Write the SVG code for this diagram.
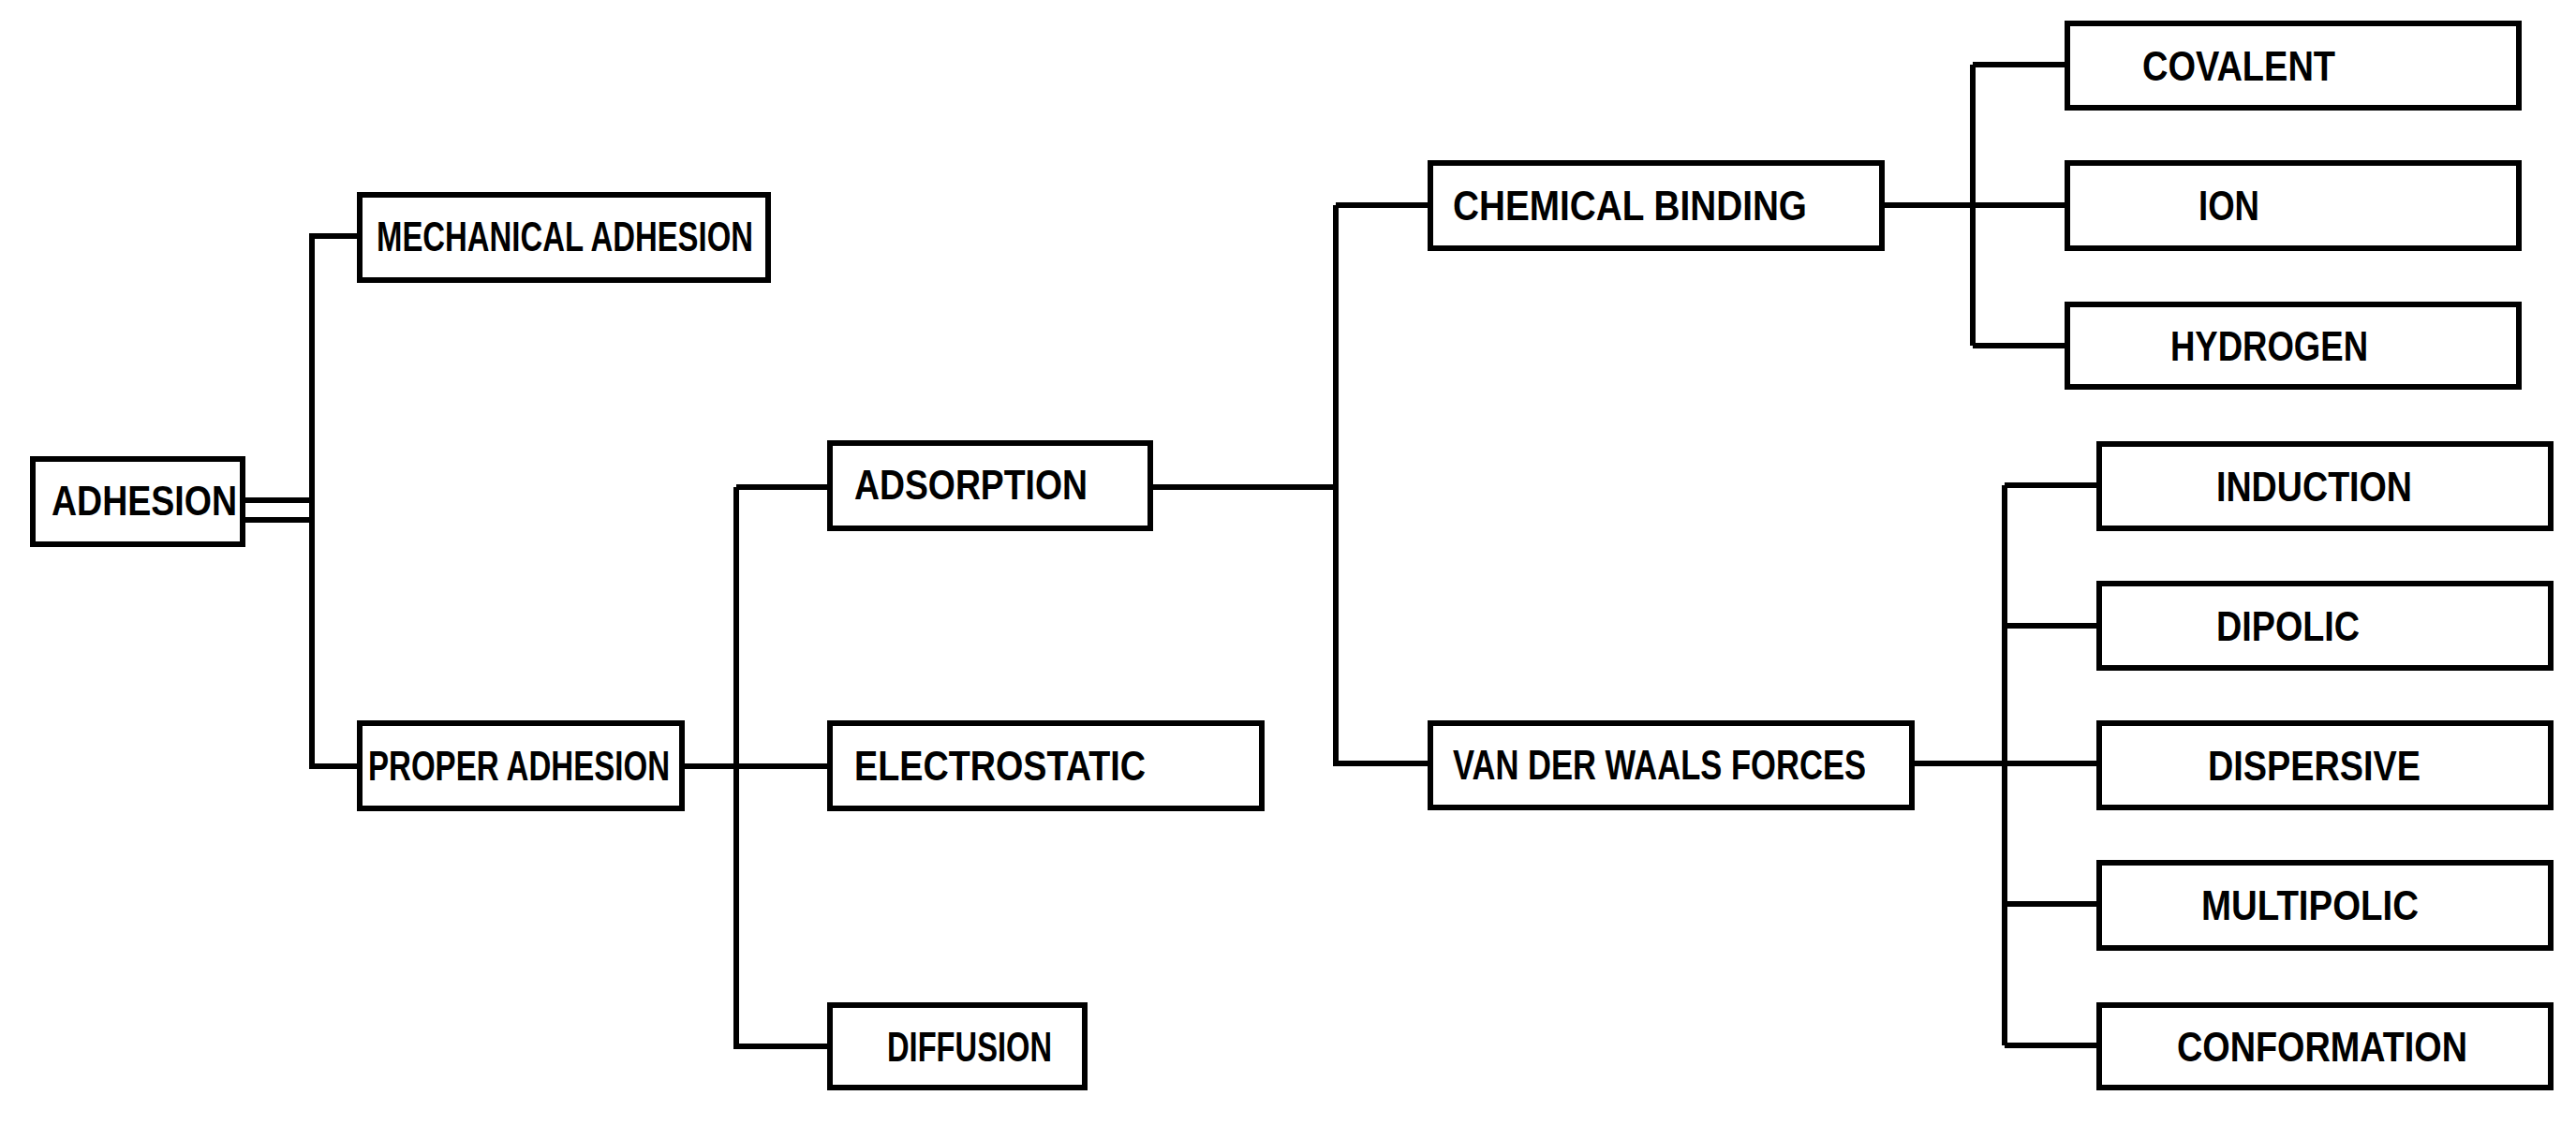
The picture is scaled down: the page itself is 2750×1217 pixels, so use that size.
<svg xmlns="http://www.w3.org/2000/svg" width="2750" height="1217" viewBox="0 0 2750 1217">
<style>
rect{fill:#fff;stroke:#000;stroke-width:6}
text{font-family:"Liberation Sans",Arial,sans-serif;font-weight:bold;font-size:44px;fill:#000}
#connectors path{fill:none;stroke:#000;stroke-width:6}
</style>
<rect x="0" y="0" width="2750" height="1217" style="stroke:none"/>
<g id="connectors">
<path d="M260 534H333M260 555H333M384 252H333V818H384"/>
<path d="M728 818H886M1228 520H1426M786 520H886M786 520V1117H886"/>
<path d="M1426 219H1527M1426 219V815H1527"/>
<path d="M2009 219H2207M2106 69H2207M2106 369H2207M2106 69V369"/>
<path d="M2041 815H2241M2140 518V1116M2140 518H2241M2140 668H2241M2140 965H2241M2140 1116H2241"/>
</g>
<g id="adhesion"><rect x="35" y="490" width="224" height="91"/><text x="55" y="550" textLength="198" lengthAdjust="spacingAndGlyphs">ADHESION</text></g>
<g id="mechanical"><rect x="384" y="208" width="436" height="91"/><text x="402" y="268" textLength="402" lengthAdjust="spacingAndGlyphs">MECHANICAL ADHESION</text></g>
<g id="proper"><rect x="384" y="772" width="344" height="91"/><text x="393" y="833" textLength="322" lengthAdjust="spacingAndGlyphs">PROPER ADHESION</text></g>
<g id="adsorption"><rect x="886" y="473" width="342" height="91"/><text x="912" y="533" textLength="249" lengthAdjust="spacingAndGlyphs">ADSORPTION</text></g>
<g id="electrostatic"><rect x="886" y="772" width="461" height="91"/><text x="912" y="833" textLength="311" lengthAdjust="spacingAndGlyphs">ELECTROSTATIC</text></g>
<g id="diffusion"><rect x="886" y="1073" width="272" height="88"/><text x="947" y="1133" textLength="176" lengthAdjust="spacingAndGlyphs">DIFFUSION</text></g>
<g id="chemical"><rect x="1527" y="174" width="482" height="91"/><text x="1551" y="235" textLength="378" lengthAdjust="spacingAndGlyphs">CHEMICAL BINDING</text></g>
<g id="vdw"><rect x="1527" y="772" width="514" height="90"/><text x="1551" y="832" textLength="441" lengthAdjust="spacingAndGlyphs">VAN DER WAALS FORCES</text></g>
<g id="covalent"><rect x="2207" y="25" width="482" height="90"/><text x="2287" y="86" textLength="206" lengthAdjust="spacingAndGlyphs">COVALENT</text></g>
<g id="ion"><rect x="2207" y="174" width="482" height="91"/><text x="2347" y="235" textLength="65" lengthAdjust="spacingAndGlyphs">ION</text></g>
<g id="hydrogen"><rect x="2207" y="325" width="482" height="88"/><text x="2317" y="385" textLength="211" lengthAdjust="spacingAndGlyphs">HYDROGEN</text></g>
<g id="induction"><rect x="2241" y="474" width="482" height="90"/><text x="2366" y="535" textLength="209" lengthAdjust="spacingAndGlyphs">INDUCTION</text></g>
<g id="dipolic"><rect x="2241" y="623" width="482" height="90"/><text x="2366" y="684" textLength="153" lengthAdjust="spacingAndGlyphs">DIPOLIC</text></g>
<g id="dispersive"><rect x="2241" y="772" width="482" height="90"/><text x="2357" y="833" textLength="227" lengthAdjust="spacingAndGlyphs">DISPERSIVE</text></g>
<g id="multipolic"><rect x="2241" y="921" width="482" height="91"/><text x="2350" y="982" textLength="232" lengthAdjust="spacingAndGlyphs">MULTIPOLIC</text></g>
<g id="conformation"><rect x="2241" y="1073" width="482" height="88"/><text x="2324" y="1133" textLength="310" lengthAdjust="spacingAndGlyphs">CONFORMATION</text></g>
</svg>
